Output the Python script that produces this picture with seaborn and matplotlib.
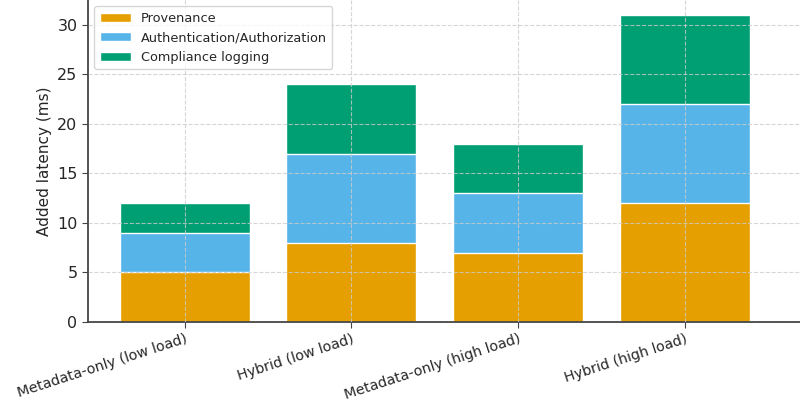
import matplotlib
matplotlib.use("Agg")
import matplotlib.pyplot as plt
import pandas as pd
import seaborn as sns

# Data
scenarios = ["Metadata-only (low load)", "Hybrid (low load)",
             "Metadata-only (high load)", "Hybrid (high load)"]
provenance = [5, 8, 7, 12]
auth = [4, 9, 6, 10]
compliance = [3, 7, 5, 9]

components = ["Provenance", "Authentication/Authorization", "Compliance logging"]
colors = ["#E69F00", "#56B4E9", "#009E73"]

sns.set_style("white")
plt.rcParams['font.family'] = ['DejaVu Sans']

df = pd.DataFrame({"Provenance": provenance,
                   "Authentication/Authorization": auth,
                   "Compliance logging": compliance}, index=scenarios)

fig = plt.figure(figsize=(8, 4.08), dpi=100)
ax = fig.add_axes([88 / 800, 86 / 408, 712 / 800, 322 / 408])

# Stacked bars: draw cumulative totals from top layer down with seaborn
cum = df.cumsum(axis=1)
for comp, col in reversed(list(zip(components, colors))):
    sns.barplot(x=cum.index, y=cum[comp].values, color=col, width=0.78,
                ax=ax, label=comp, saturation=1, zorder=1)

ax.set_xlim(-0.58, 3.69)
ax.set_ylim(0, 32.5)
ax.set_yticks([0, 5, 10, 15, 20, 25, 30])
ax.grid(True, linestyle="--", color="#cccccc", linewidth=0.8, alpha=0.8)
ax.set_axisbelow(False)

for s in ["top", "right"]:
    ax.spines[s].set_visible(False)
for s in ["left", "bottom"]:
    ax.spines[s].set_color("#444444")
    ax.spines[s].set_linewidth(1.3)

ax.tick_params(axis="y", labelsize=11.5, length=4, color="#444444", left=True)
ax.tick_params(axis="x", labelsize=10.3, length=4, pad=3, color="#444444", bottom=True)
plt.setp(ax.get_xticklabels(), rotation=18, ha="right", rotation_mode="anchor")
ax.set_ylabel("Added latency (ms)", fontsize=11)
ax.set_xlabel("")

handles, labels = ax.get_legend_handles_labels()
order = [labels.index(c) for c in components]
ax.legend([handles[i] for i in order], [labels[i] for i in order],
          loc="upper left", fontsize=9.3, frameon=True, borderpad=0.4,
          handlelength=2.4, labelspacing=0.5)

fig.savefig("out.png", dpi=100)
